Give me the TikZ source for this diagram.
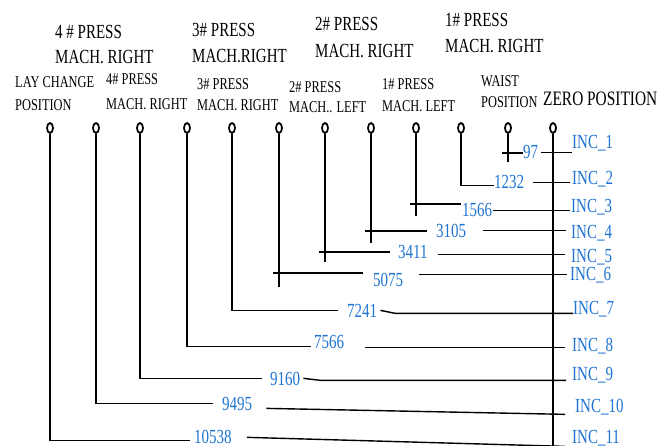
\documentclass[tikz,border=0pt]{standalone}
\usepackage{fontspec}
\setmainfont{Liberation Serif}[FakeStretch=0.75]
\usetikzlibrary{shapes.geometric}
\definecolor{incblue}{HTML}{1E73D2}

\begin{document}
\begin{tikzpicture}[x=1pt, y=-1pt,
  ring/.style={draw, ellipse, line width=1.8pt, minimum width=6pt, minimum height=10pt, inner sep=0pt},
  head/.style={anchor=base west, align=left, inner sep=0pt, font=\fontsize{20}{26}\selectfont},
  sub/.style={anchor=base west, align=left, inner sep=0pt, font=\fontsize{16.5}{22}\selectfont},
  val/.style={anchor=base west, inner sep=0pt, text depth=0pt, text=incblue, font=\fontsize{20}{24}\selectfont},
  wire/.style={line width=1.4pt}]
  \useasboundingbox (0,0) rectangle (671,446);
  % stations along the rail
  \foreach \n/\x in {1/50, 2/96, 3/140, 4/187, 5/232, 6/279, 7/325, 8/371, 9/416, 10/461, 11/508, 12/553}
    \node[ring] (m\n) at (\x,128) {};
  % machine names, upper row (placed by their last line)
  \node[head] (press4top) at (55,64) {4 \# PRESS\\[-1pt]MACH. RIGHT};
  \node[head] (press3top) at (192,63) {3\# PRESS\\MACH.RIGHT};
  \node[head] (press2top) at (315,58) {2\# PRESS\\[1pt]MACH. RIGHT};
  \node[head] (press1top) at (445,53) {1\# PRESS\\MACH. RIGHT};
  % machine names, lower row
  \node[sub] (lay) at (15,111) {LAY CHANGE\\[1pt]POSITION};
  \node[sub] (press4) at (106,110) {4\# PRESS\\[3pt]MACH. RIGHT};
  \node[sub] (press3) at (197,111) {3\# PRESS\\[-1pt]MACH. RIGHT};
  \node[sub] (press2) at (289,113) {2\# PRESS\\[-2pt]MACH.. LEFT};
  \node[sub] (press1) at (382,112) {1\# PRESS\\MACH. LEFT};
  \node[sub] (waist) at (481,108) {WAIST\\[-1pt]POSITION};
  \node[anchor=base west, inner sep=0pt, font=\fontsize{20.5}{24}\selectfont] (zero) at (543,106) {ZERO POSITION};
  % increments
  \node[val] (v97) at (523,159) {97};
  \node[val] (v1232) at (494,189) {1232};
  \node[val] (v1566) at (462,217) {1566};
  \node[val] (v3105) at (436,237) {3105};
  \node[val] (v3411) at (398,258) {3411};
  \node[val] (v5075) at (373,286) {5075};
  \node[val] (v7241) at (347,317) {7241};
  \node[val] (v7566) at (314,348) {7566};
  \node[val] (v9160) at (270,385) {9160};
  \node[val] (v9495) at (222,410) {9495};
  \node[val] (v10538) at (194,443) {10538};
  \foreach \n/\x/\y in {1/572/149, 2/572/185, 3/571/212, 4/571/238, 5/571/262, 6/570/280,
                        7/573/314, 8/572/351, 9/572/380, 10/575/412, 11/572/443}
    \node[val] (i\n) at (\x,\y) {INC\_\n};
  % zero line
  \coordinate (zbot) at (553,446);
  \draw[wire] (m12.south) -- (zbot);
  % drops with a plain corner
  \draw[wire] (m10.south) |- ([yshift=-3pt]v1232.west);
  \draw[wire, shorten >=9pt] (m5.south) |- (v7241.west);
  \draw[wire, shorten >=3pt] (m4.south) |- ([yshift=-5pt]v7566.west);
  \draw[wire, shorten >=8pt] (m3.south) |- (v9160.west);
  \draw[wire, shorten >=9pt] (m2.south) |- (v9495.west);
  \draw[wire, shorten >=4pt] (m1.south) |- ([yshift=-4pt]v10538.west);
  % drops that cross their bar
  \foreach \m/\v/\lo/\hy/\gap in {11/v97/162/153/0, 9/v1566/216/204/1, 8/v3105/243/231/9,
                                  7/v3411/262/252/8, 6/v5075/287/273/10} {
    \coordinate (k\m) at (m\m.south |- 0,\lo);
    \coordinate (h\m) at ([xshift=-6pt]m\m.south |- 0,\hy);
    \draw[wire] (m\m.south) -- (k\m);
    \draw[wire, shorten >=\gap pt] (h\m) -- (h\m -| \v.west);
  }
  % leaders to the INC labels
  \foreach \v/\i/\s/\a/\b in {v97/i1/0/3/0, v1232/i2/0/9/2, v1566/i3/0/1/1, v3105/i4/0/17/5,
                              v3411/i5/-3/10/6, v5075/i6/5/16/3, v7566/i8/-6/21/7}
    \draw[wire, shorten <=\a pt, shorten >=\b pt] ([yshift=\s pt]\v.east) -- ([yshift=\s pt]\v.east -| \i.west);
  \draw[wire] ([xshift=3pt]v7241.east) -- ([xshift=18pt,yshift=-3pt]v7241.east) -- ([yshift=-6pt]i7.west);
  \draw[wire] ([xshift=3pt]v9160.east) -- ([xshift=20pt,yshift=-2pt]v9160.east) -- ([xshift=-6pt,yshift=-7pt]i9.west);
  \draw[wire] ([xshift=14pt,yshift=-5pt]v9495.east) -- ([xshift=-10pt,yshift=-9pt]i10.west);
  \draw[wire] ([xshift=15pt,yshift=-1pt]v10538.east) -- ([xshift=-7pt,yshift=-10pt]i11.west);
\end{tikzpicture}
\end{document}
